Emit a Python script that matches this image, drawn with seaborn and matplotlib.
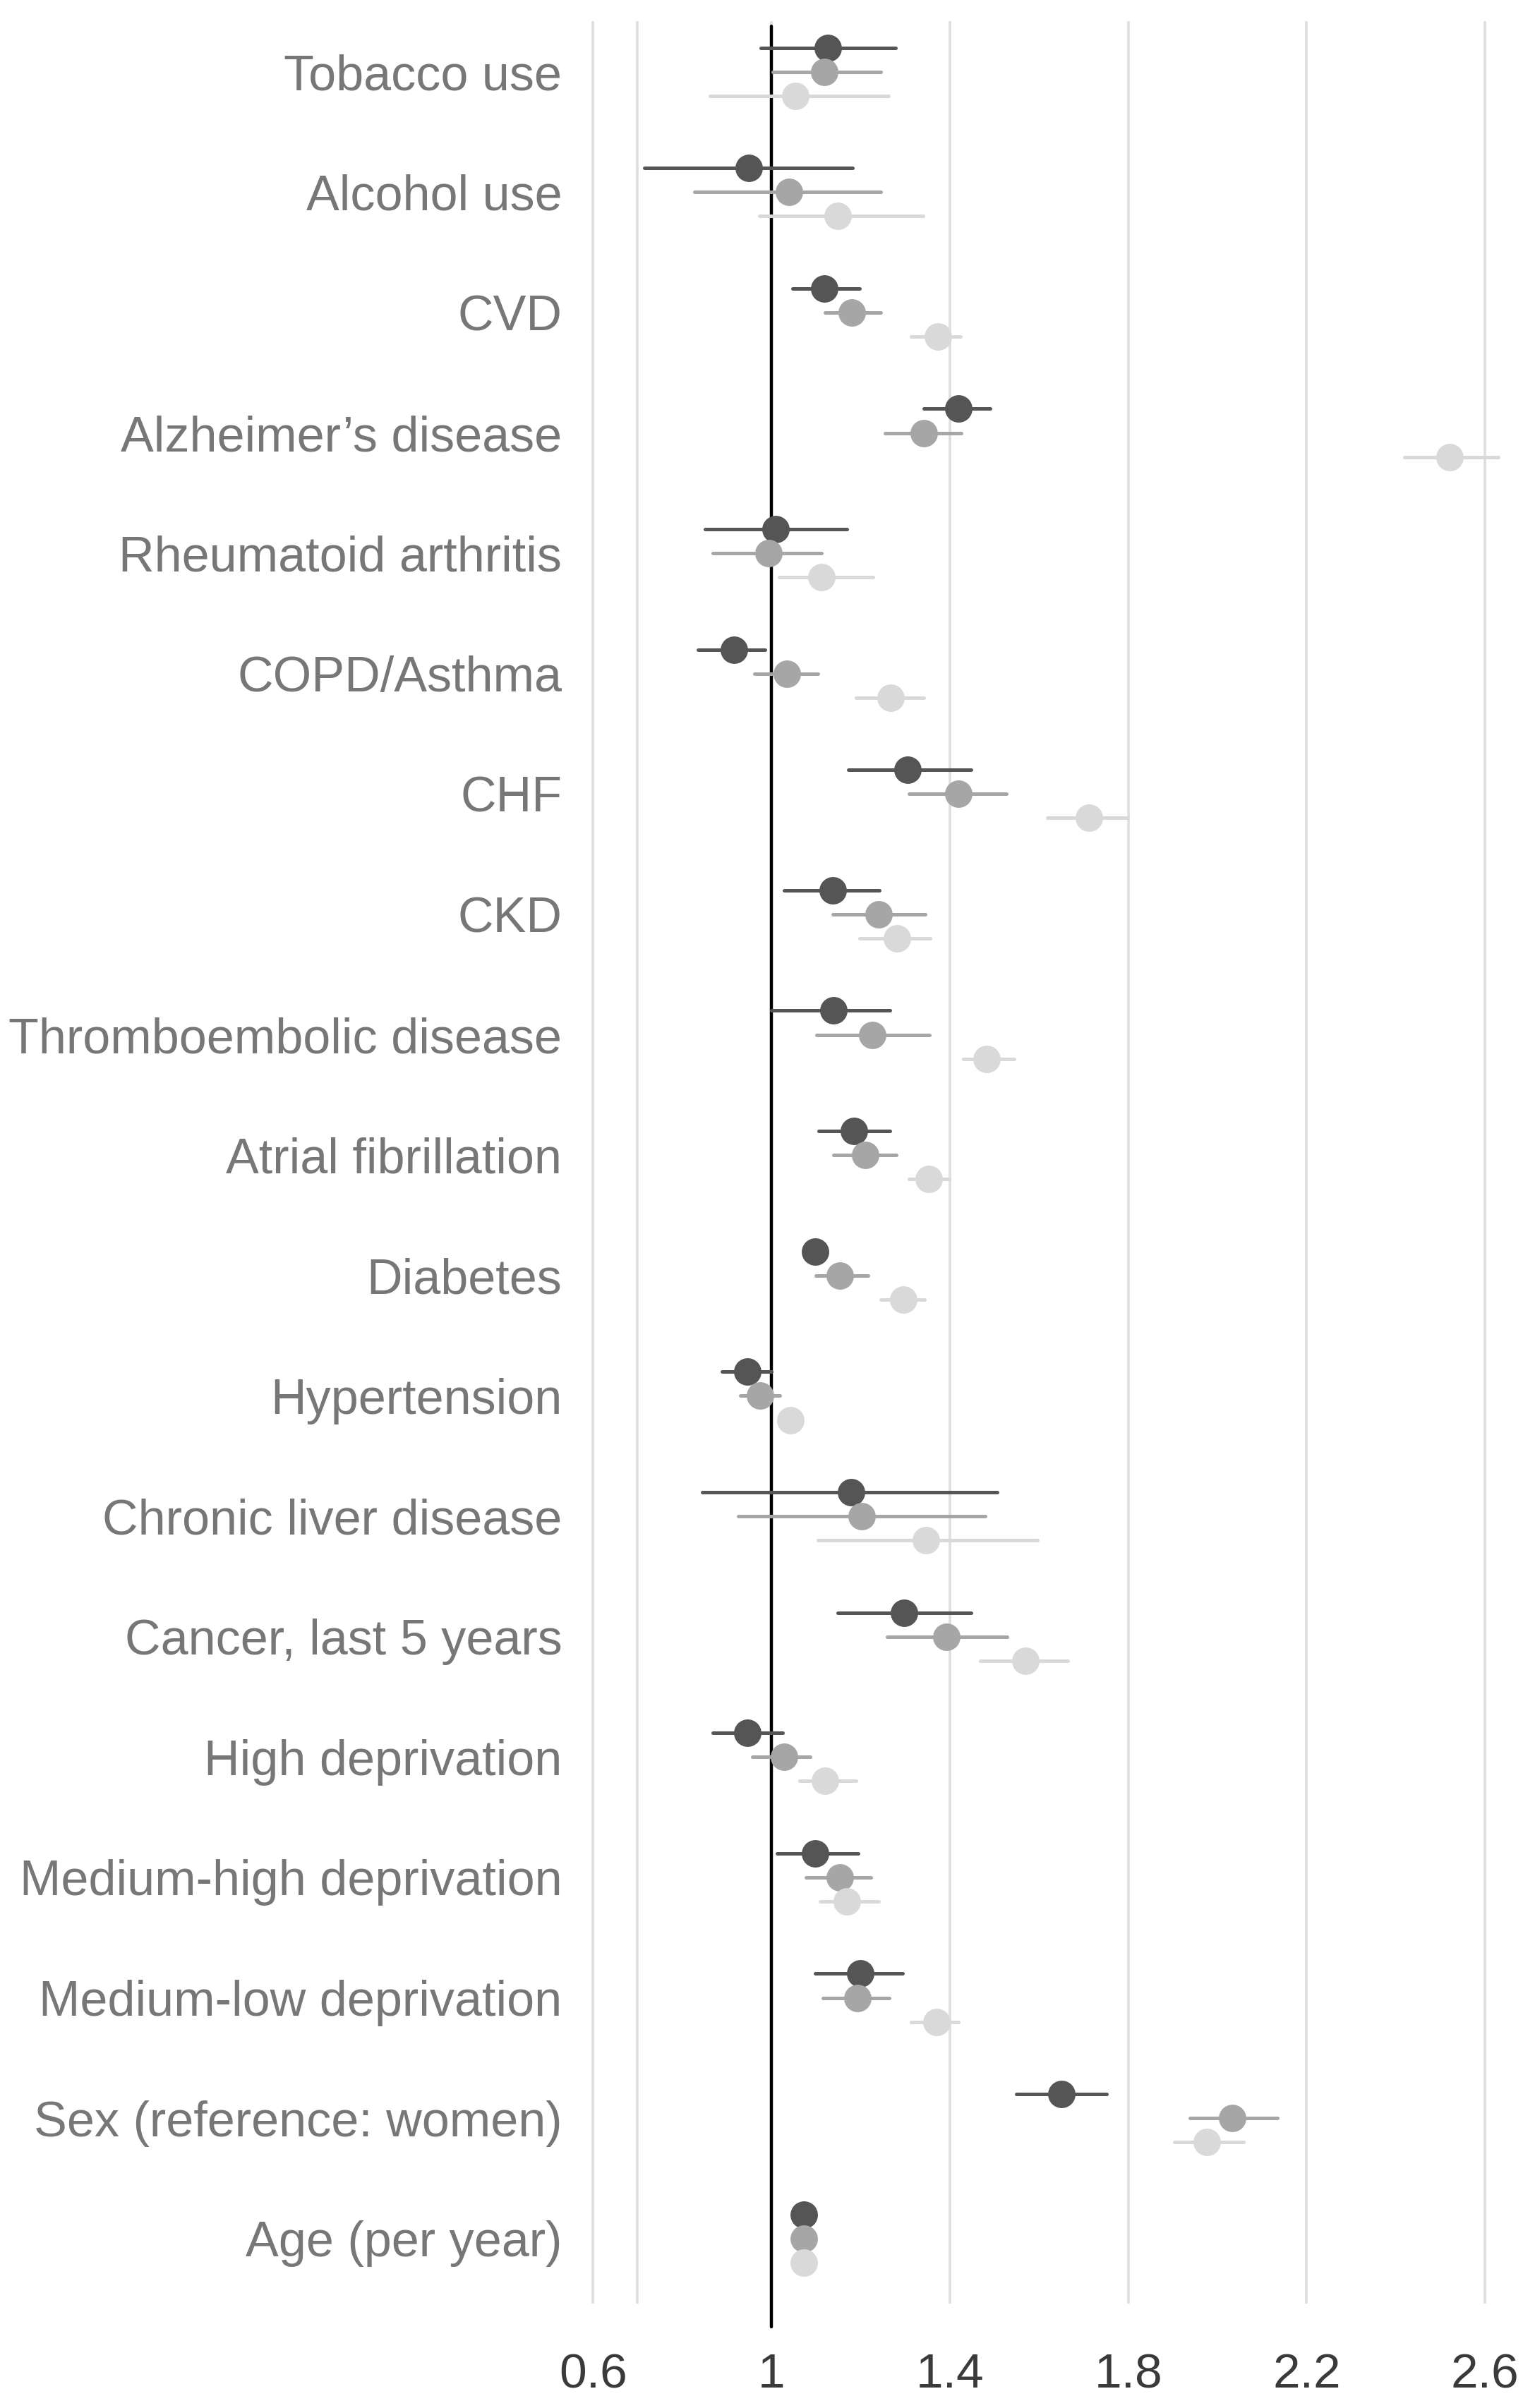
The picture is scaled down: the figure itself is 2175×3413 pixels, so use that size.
import numpy as np
import pandas as pd
import matplotlib.pyplot as plt
import matplotlib.ticker as mticker
import seaborn as sns

# Fatores (de cima para baixo)
fatores = ['Tobacco use', 'Alcohol use', 'CVD', 'Alzheimer\u2019s disease',
           'Rheumatoid arthritis', 'COPD/Asthma', 'CHF', 'CKD',
           'Thromboembolic disease', 'Atrial fibrillation', 'Diabetes',
           'Hypertension', 'Chronic liver disease', 'Cancer, last 5 years',
           'High deprivation', 'Medium-high deprivation', 'Medium-low deprivation',
           'Sex (reference: women)', 'Age (per year)']

modelos = ['Model 1', 'Model 2', 'Model 3']
cores = ['#555555', '#a6a6a6', '#d9d9d9']

# Modelo 1 (escuro)
est_m1 = [1.126, 0.950, 1.119, 1.419, 1.010, 0.916, 1.305, 1.138, 1.139, 1.185,
          1.098, 0.946, 1.179, 1.297, 0.946, 1.098, 1.200, 1.650, 1.073]
lo_m1 = [0.977, 0.715, 1.048, 1.342, 0.852, 0.835, 1.172, 1.028, 1.000, 1.106,
         1.082, 0.889, 0.845, 1.148, 0.869, 1.012, 1.098, 1.549, 1.068]
hi_m1 = [1.278, 1.182, 1.198, 1.491, 1.169, 0.986, 1.447, 1.242, 1.266, 1.266,
         1.115, 1.000, 1.506, 1.448, 1.026, 1.194, 1.295, 1.752, 1.078]

# Modelo 2 (medio)
est_m2 = [1.119, 1.039, 1.180, 1.341, 0.993, 1.035, 1.419, 1.241, 1.226, 1.210,
          1.153, 0.974, 1.202, 1.393, 1.028, 1.153, 1.193, 2.034, 1.073]
lo_m2 = [1.003, 0.828, 1.121, 1.255, 0.869, 0.962, 1.309, 1.138, 1.101, 1.140,
         1.099, 0.930, 0.925, 1.260, 0.957, 1.077, 1.115, 1.938, 1.068]
hi_m2 = [1.245, 1.245, 1.245, 1.426, 1.113, 1.105, 1.527, 1.345, 1.355, 1.280,
         1.216, 1.019, 1.480, 1.528, 1.087, 1.223, 1.264, 2.135, 1.078]

# Modelo 3 (claro)
est_m3 = [1.054, 1.149, 1.373, 2.521, 1.113, 1.267, 1.712, 1.281, 1.482, 1.353,
          1.296, 1.042, 1.347, 1.569, 1.121, 1.169, 1.370, 1.977, 1.073]
lo_m3 = [0.862, 0.973, 1.314, 2.420, 1.017, 1.190, 1.619, 1.197, 1.430, 1.309,
         1.246, 1.022, 1.105, 1.468, 1.063, 1.109, 1.314, 1.904, 1.068]
hi_m3 = [1.262, 1.340, 1.424, 2.630, 1.228, 1.342, 1.799, 1.356, 1.544, 1.399,
         1.343, 1.062, 1.597, 1.664, 1.190, 1.240, 1.419, 2.059, 1.078]

ticks_x = [0.6, 1.0, 1.4, 1.8, 2.2, 2.6]
rotulos_x = ['0.6', '1', '1.4', '1.8', '2.2', '2.6']

# tabela longa: cada ponto leva (limite inferior, estimativa, limite superior)
linhas = []
for modelo, est, lo, hi in [('Model 1', est_m1, lo_m1, hi_m1),
                            ('Model 2', est_m2, lo_m2, hi_m2),
                            ('Model 3', est_m3, lo_m3, hi_m3)]:
    for f, e, l, h in zip(fatores, est, lo, hi):
        for v in (l, e, h):
            linhas.append({'fator': f, 'modelo': modelo, 'valor': v})
df = pd.DataFrame(linhas)

sns.set_theme(style='white')
plt.rcParams['font.family'] = ['Liberation Sans', 'DejaVu Sans']

fig = plt.figure(figsize=(21.75, 34.13), dpi=100)
ax = fig.add_axes([0.377, 0.0434, 0.623, 0.9478])

sns.pointplot(data=df, x='valor', y='fator', hue='modelo', order=fatores,
              hue_order=modelos, palette=cores, estimator='median',
              errorbar=lambda v: (v.min(), v.max()), dodge=0.4,
              linestyle='none', markers='o', markersize=28,
              markeredgewidth=0, err_kws={'linewidth': 3.6},
              legend=False, ax=ax)

ax.axvline(1, ymin=-0.0102, ymax=0.998, color='black', lw=3.2,
           clip_on=False, zorder=1)

ax.set_xlim(0.568, 2.712)
ax.set_ylim(18.54, -0.42)
ax.set_xticks(ticks_x)
ax.set_xticklabels(rotulos_x, family=['Liberation Sans Narrow', 'Liberation Sans'])
ax.xaxis.set_minor_locator(mticker.FixedLocator([0.7]))
ax.grid(axis='x', which='both', color='#dedede', lw=2.6, zorder=0)
ax.set_axisbelow(True)
for s in ax.spines.values():
    s.set_visible(False)
ax.tick_params(axis='x', which='both', length=0, pad=50, labelsize=50,
               labelcolor='#3a3a3a')
ax.tick_params(axis='y', length=0, pad=17, labelsize=50.5, labelcolor='#777777')
ax.set_xlabel('')
ax.set_ylabel('')

fig.savefig('out.png', dpi=100)
